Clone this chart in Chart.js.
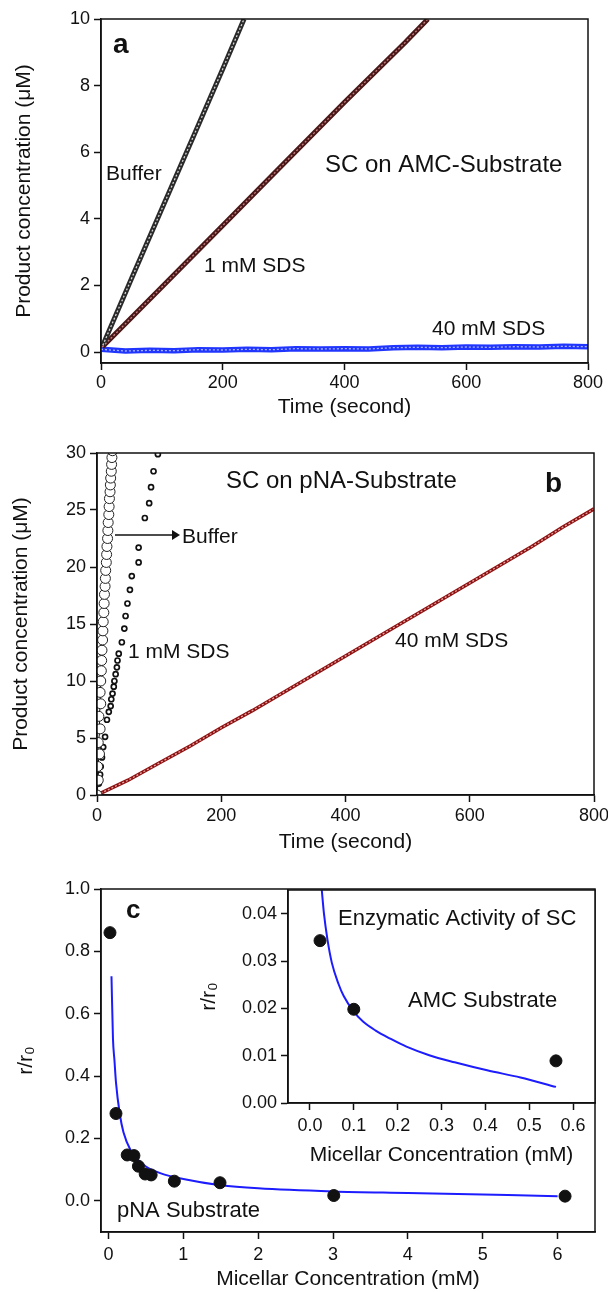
<!DOCTYPE html>
<html>
<head>
<meta charset="utf-8">
<script src="https://cdn.jsdelivr.net/npm/chart.js@4.4.0/dist/chart.umd.min.js"></script>
<style>
  body { margin: 0; background: #fff; width: 608px; height: 1292px; position: relative; overflow: hidden; }
  canvas { position: absolute; }
</style>
</head>
<body>
<canvas id="chart-a" width="608" height="420" style="left:0;top:0"></canvas>
<canvas id="chart-b" width="608" height="430" style="left:0;top:430px"></canvas>
<canvas id="chart-c" width="608" height="422" style="left:0;top:870px"></canvas>
<canvas id="chart-inset" width="418" height="290" style="left:190px;top:880px"></canvas>
<script>
// ─── Data ─────────────────────────────────────────────────────────────────────

// (a) SC on AMC-substrate, product (µM) vs time (s)
const amcBufferT = [3, 50, 100, 150, 200, 235];
const amcBufferY = [0.2, 2.2, 4.3, 6.4, 8.5, 10.0];
const amcSds1T = [2, 100, 200, 300, 400, 500, 537];
const amcSds1Y = [0.15, 1.95, 3.8, 5.65, 7.5, 9.3, 10.0];
const amcSds40T = [0, 40, 80, 120, 160, 200, 240, 280, 320, 360, 400, 440, 480, 520, 560, 600, 640, 680, 720, 760, 800];
const amcSds40Y = [0.08, 0.03, 0.05, 0.04, 0.07, 0.06, 0.08, 0.07, 0.10, 0.09, 0.10, 0.09, 0.13, 0.14, 0.13, 0.15, 0.14, 0.16, 0.15, 0.17, 0.16];

// (b) SC on pNA-substrate
const pnaBufferT = [0, 2, 1, 4, 2, 5, 3, 6, 5, 6, 7, 7.5, 8, 9, 9.5, 10, 11, 11.5, 12, 13, 13.5, 14, 15, 15.5, 16, 17, 17.5, 18, 19, 19.5, 20, 21, 21.5, 22, 23, 23.5, 24, 25];
const pnaBufferY = [0, 1.3, 2.5, 3.6, 4.6, 5.8, 6.9, 8.0, 9.0, 10.0, 10.9, 11.8, 12.7, 13.6, 14.4, 15.2, 16.0, 16.8, 17.6, 18.3, 19.0, 19.7, 20.4, 21.1, 21.8, 22.5, 23.2, 23.9, 24.6, 25.3, 26.0, 26.6, 27.2, 27.8, 28.4, 29.0, 29.6, 30.2];
const pnaSds1T = [3, 5, 6, 8, 10, 13, 16, 19, 22, 23, 25, 27, 28, 30, 32, 33, 35, 40, 44, 46, 49, 53, 56, 67, 67, 77, 84, 87, 91, 98];
const pnaSds1Y = [1.0, 1.8, 2.5, 3.3, 4.2, 5.1, 6.6, 7.3, 7.8, 8.4, 8.9, 9.5, 10.0, 10.6, 11.2, 11.8, 12.4, 13.4, 14.6, 15.7, 16.8, 18.0, 19.2, 20.4, 21.7, 24.3, 25.6, 27.0, 28.4, 29.9];
const pnaSds40T = [0, 50, 100, 150, 200, 250, 300, 350, 400, 450, 500, 550, 600, 650, 700, 750, 800];
const pnaSds40Y = [0, 1.3, 2.8, 4.3, 5.9, 7.4, 9.0, 10.6, 12.2, 13.8, 15.4, 17.0, 18.6, 20.2, 21.8, 23.5, 25.1];

// (c) relative activity vs micellar concentration (mM)
const pnaMicelle = [0.02, 0.1, 0.25, 0.34, 0.40, 0.49, 0.57, 0.88, 1.49, 3.01, 6.10];
const pnaRatio = [0.86, 0.28, 0.147, 0.145, 0.111, 0.086, 0.083, 0.063, 0.058, 0.017, 0.015];
const pnaFitX = [0.04, 0.06, 0.08, 0.1, 0.15, 0.2, 0.3, 0.4, 0.5, 0.7, 1.0, 1.5, 2.0, 3.0, 4.0, 5.0, 6.0];
const pnaFitY = [0.72, 0.52, 0.45, 0.38, 0.28, 0.22, 0.16, 0.13, 0.11, 0.088, 0.07, 0.05, 0.04, 0.03, 0.025, 0.02, 0.015];

// (c, inset) AMC substrate
const amcMicelle = [0.023, 0.100, 0.561];
const amcRatio = [0.0343, 0.0198, 0.0089];
const amcFitX = [0.027, 0.032, 0.04, 0.05, 0.065, 0.077, 0.1, 0.121, 0.15, 0.183, 0.22, 0.272, 0.33, 0.404, 0.48, 0.561];
const amcFitY = [0.045, 0.040, 0.0345, 0.0296, 0.0252, 0.0226, 0.0193, 0.0172, 0.0153, 0.0136, 0.0119, 0.0101, 0.0086, 0.0069, 0.0054, 0.0034];

// tick values
const timeTicks = [0, 200, 400, 600, 800];
const amcProductTicks = [0, 2, 4, 6, 8, 10];
const pnaProductTicks = [0, 5, 10, 15, 20, 25, 30];
const micelleTicks = [0, 1, 2, 3, 4, 5, 6];
const ratioTicks = [0, 0.2, 0.4, 0.6, 0.8, 1.0];
const insetMicelleTicks = [0, 0.1, 0.2, 0.3, 0.4, 0.5, 0.6];
const insetRatioTicks = [0, 0.01, 0.02, 0.03, 0.04];

// ─── Helpers ──────────────────────────────────────────────────────────────────

const FONT = "'Liberation Sans', Arial, sans-serif";
const INK = "#111";
Chart.defaults.font.family = FONT;
Chart.defaults.color = INK;

function pts(xs, ys) {
  return xs.map((x, i) => ({ x, y: ys[i] }));
}

function axis(dir, { min, max, ticks, fmt, title, titlePad, size, labelPad = 4 }) {
  return {
    type: "linear",
    min, max,
    afterBuildTicks: s => { s.ticks = ticks.map(v => ({ value: v })); },
    afterFit: s => {
      if (dir === "x") { s.height = size; s.paddingLeft = 0; s.paddingRight = 0; }
      else { s.width = size; s.paddingTop = 0; s.paddingBottom = 0; }
    },
    grid: { drawOnChartArea: false, tickLength: 7, tickColor: INK, tickWidth: 1.5 },
    border: { color: INK, width: 1.5 },
    ticks: {
      font: { size: 18 }, color: INK, padding: labelPad,
      autoSkip: false, maxRotation: 0,
      callback: fmt || (v => v),
    },
    title: {
      display: true, text: title, color: INK, font: { size: 21 },
      padding: dir === "x" ? { top: 0, bottom: titlePad } : { top: titlePad, bottom: 0 },
    },
  };
}

// dense kinetic traces: dark outer stroke with a light dashed core
function beaded(data, outer, inner, width) {
  return [
    { data, showLine: true, pointRadius: 0, borderColor: outer, borderWidth: width, order: 2 },
    { data, showLine: true, pointRadius: 0, borderColor: inner, borderWidth: 1.3, borderDash: [2, 2], order: 1 },
  ];
}

// frame box, page-positioned notes and arrows
const framePlugin = {
  id: "frame",
  beforeDraw(chart, args, opts) {
    if (!opts.fill) return;
    const { ctx, chartArea: a } = chart;
    ctx.save();
    ctx.fillStyle = "#fff";
    ctx.fillRect(a.left, a.top, a.width, a.height);
    ctx.restore();
  },
  afterDatasetsDraw(chart, args, opts) {
    const { ctx, chartArea: a } = chart;
    const ox = opts.left || 0, oy = opts.top || 0;
    ctx.save();
    ctx.strokeStyle = INK;
    ctx.lineWidth = 1.5;
    ctx.strokeRect(a.left, a.top, a.width, a.height);
    ctx.fillStyle = INK;
    ctx.textBaseline = "alphabetic";
    (opts.notes || []).forEach(n => {
      ctx.font = `${n.bold ? "bold " : ""}${n.size || 21}px ${FONT}`;
      ctx.fillText(n.text, n.x - ox, n.y - oy);
    });
    (opts.arrows || []).forEach(r => {
      const y = r.y - oy, x1 = r.x1 - ox, x2 = r.x2 - ox;
      ctx.lineWidth = 1.5;
      ctx.beginPath(); ctx.moveTo(x1, y); ctx.lineTo(x2 - 6, y); ctx.stroke();
      ctx.beginPath(); ctx.moveTo(x2, y); ctx.lineTo(x2 - 8, y - 5); ctx.lineTo(x2 - 8, y + 5); ctx.closePath(); ctx.fill();
    });
    ctx.restore();
  },
};

function baseOptions(padding, scales, frame) {
  return {
    responsive: false,
    animation: false,
    layout: { padding },
    plugins: { legend: { display: false }, tooltip: { enabled: false }, frame },
    scales,
  };
}

// ─── Panel a ──────────────────────────────────────────────────────────────────

new Chart(document.getElementById("chart-a"), {
  type: "scatter",
  data: {
    datasets: [
      ...beaded(pts(amcBufferT, amcBufferY), "#2a2a2a", "#d6d6d6", 5),
      ...beaded(pts(amcSds1T, amcSds1Y), "#4a1818", "#c88080", 5),
      ...beaded(pts(amcSds40T, amcSds40Y), "#2036ff", "#a8b2ff", 5.5),
    ],
  },
  options: baseOptions(
    { left: 0, top: 19, right: 20, bottom: 0 },
    {
      x: axis("x", { min: 0, max: 800, ticks: timeTicks, title: "Time (second)", titlePad: 0, size: 57, labelPad: 2 }),
      y: axis("y", { min: -0.33, max: 10, ticks: amcProductTicks, title: "Product concentration (\u03bcM)", titlePad: 12, size: 101 }),
    },
    {
      top: 0,
      notes: [
        { text: "a", x: 113, y: 53, bold: true, size: 28 },
        { text: "Buffer", x: 106, y: 180 },
        { text: "1 mM SDS", x: 204, y: 272 },
        { text: "SC on AMC-Substrate", x: 325, y: 172, size: 24 },
        { text: "40 mM SDS", x: 432, y: 335 },
      ],
    }
  ),
  plugins: [framePlugin],
});

// ─── Panel b ──────────────────────────────────────────────────────────────────

new Chart(document.getElementById("chart-b"), {
  type: "scatter",
  data: {
    datasets: [
      {
        data: pts(pnaBufferT, pnaBufferY), showLine: true, borderColor: INK, borderWidth: 1,
        pointRadius: 5, pointBorderWidth: 1, pointBorderColor: "#222", pointBackgroundColor: "#fff",
      },
      {
        data: pts(pnaSds1T, pnaSds1Y), showLine: false,
        pointRadius: 2.5, pointBorderWidth: 1.7, pointBorderColor: INK, pointBackgroundColor: "#fff",
      },
      ...beaded(pts(pnaSds40T, pnaSds40Y), "#8e1212", "#e6a4a4", 3.5),
    ],
  },
  options: baseOptions(
    { left: 0, top: 23, right: 14, bottom: 0 },
    {
      x: axis("x", { min: 0, max: 800, ticks: timeTicks, title: "Time (second)", titlePad: 5, size: 65, labelPad: 3 }),
      y: axis("y", { min: 0, max: 30, ticks: pnaProductTicks, title: "Product concentration (\u03bcM)", titlePad: 9, size: 97 }),
    },
    {
      top: 430,
      notes: [
        { text: "SC on pNA-Substrate", x: 226, y: 488, size: 24 },
        { text: "b", x: 545, y: 492, bold: true, size: 28 },
        { text: "Buffer", x: 182, y: 543 },
        { text: "1 mM SDS", x: 128, y: 658 },
        { text: "40 mM SDS", x: 395, y: 647 },
      ],
      arrows: [{ x1: 115, x2: 180, y: 535 }],
    }
  ),
  plugins: [framePlugin],
});

// ─── Panel c ──────────────────────────────────────────────────────────────────

new Chart(document.getElementById("chart-c"), {
  type: "scatter",
  data: {
    datasets: [
      { data: pts(pnaMicelle, pnaRatio), pointRadius: 6, pointBackgroundColor: INK, pointBorderColor: INK },
      {
        data: pts(pnaFitX, pnaFitY), showLine: true, pointRadius: 0,
        borderColor: "#1c1cff", borderWidth: 2, cubicInterpolationMode: "monotone",
      },
    ],
  },
  options: baseOptions(
    { left: 0, top: 19, right: 13, bottom: 0 },
    {
      x: axis("x", { min: -0.1, max: 6.5, ticks: micelleTicks, title: "Micellar Concentration (mM)", titlePad: 0, size: 60, labelPad: 5 }),
      y: axis("y", { min: -0.1, max: 1.0, ticks: ratioTicks, fmt: v => v.toFixed(1), title: "r/r\u2080", titlePad: 14, size: 101 }),
    },
    {
      top: 870,
      notes: [
        { text: "c", x: 126, y: 918, bold: true, size: 26 },
        { text: "pNA Substrate", x: 117, y: 1217, size: 22 },
      ],
    }
  ),
  plugins: [framePlugin],
});

// inset: AMC substrate
new Chart(document.getElementById("chart-inset"), {
  type: "scatter",
  data: {
    datasets: [
      { data: pts(amcMicelle, amcRatio), pointRadius: 6, pointBackgroundColor: INK, pointBorderColor: INK },
      {
        data: pts(amcFitX, amcFitY), showLine: true, pointRadius: 0,
        borderColor: "#1c1cff", borderWidth: 2, cubicInterpolationMode: "monotone",
      },
    ],
  },
  options: baseOptions(
    { left: 0, top: 10, right: 13, bottom: 0 },
    {
      x: axis("x", { min: -0.05, max: 0.65, ticks: insetMicelleTicks, fmt: v => v.toFixed(1), title: "Micellar Concentration (mM)", titlePad: 2, size: 67, labelPad: 5 }),
      y: axis("y", { min: 0, max: 0.045, ticks: insetRatioTicks, fmt: v => v.toFixed(2), title: "r/r\u2080", titlePad: 7, size: 98 }),
    },
    {
      fill: true, left: 190, top: 880,
      notes: [
        { text: "Enzymatic Activity of SC", x: 338, y: 925, size: 22 },
        { text: "AMC Substrate", x: 408, y: 1007, size: 22 },
      ],
    }
  ),
  plugins: [framePlugin],
});
</script>
</body>
</html>
